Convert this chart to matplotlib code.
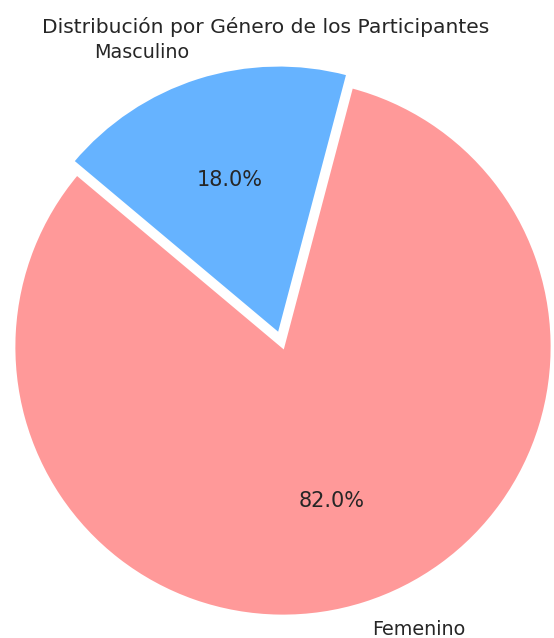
import matplotlib
matplotlib.use("Agg")
import matplotlib.pyplot as plt

labels = ["Femenino", "Masculino"]
sizes = [82, 18]
colors = ["#ff9999", "#66b3ff"]
explode = [0, 0.05]

W, H = 554, 638
fig = plt.figure(figsize=(W / 100, H / 100), dpi=100)
ax = fig.add_axes([0, 0, 1, 1])
R = 269.0
cx, cy = 283.0, 638 - 347.0

wedges, texts, autotexts = ax.pie(
    sizes, labels=labels, colors=colors, explode=explode,
    autopct="%1.1f%%", startangle=140, labeldistance=1.1,
    wedgeprops=dict(edgecolor="white", linewidth=2),
    textprops=dict(fontsize=13.8, color="#262626"),
)
for t in autotexts:
    t.set_fontsize(15)
ax.set_aspect("auto")
ax.set_xlim(-cx / R, (W - cx) / R)
ax.set_ylim(-cy / R, (H - cy) / R)
ax.axis("off")

fig.text(266 / W, 1 - 27 / H, "Distribución por Género de los Participantes",
         ha="center", va="center", fontsize=14.6, color="#262626")

fig.savefig("out.png", dpi=100)
